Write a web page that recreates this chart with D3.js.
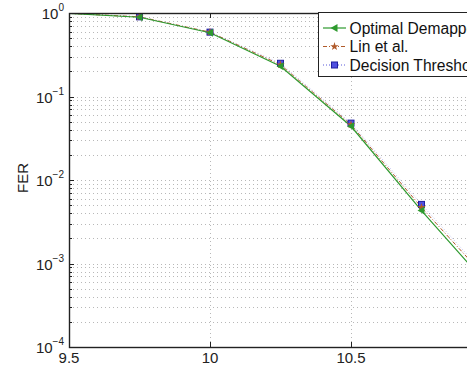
<!DOCTYPE html>
<html>
<head>
<meta charset="utf-8">
<script src="https://cdn.jsdelivr.net/npm/d3@7"></script>
<style>
  body { margin: 0; background: #fff; }
  text { font-family: "Liberation Sans", Arial, sans-serif; }
</style>
</head>
<body>
<script>
// chart data
const snr = [9.5, 9.75, 10, 10.25, 10.5, 10.75, 11];
const optimalFer = [0.99, 0.89, 0.58, 0.23, 0.044, 0.0043, 0.00048];
const linFer = [0.99, 0.9, 0.59, 0.24, 0.046, 0.0047, 0.00056];
const thresholdFer = [0.99, 0.9, 0.59, 0.25, 0.048, 0.0051, 0.0006];
const xTicks = [9.5, 10, 10.5, 11];
const yExponents = [0, -1, -2, -3, -4];
const legendNames = ["Optimal Demapper", "Lin et al.", "Decision Threshold"];

const width = 467, height = 368;
const plotLeft = 69, plotTop = 13, plotBottom = 347, plotRight = 492;

const svg = d3.select("body").append("svg")
    .attr("width", width)
    .attr("height", height);

const x = d3.scaleLinear().domain([9.5, 11]).range([plotLeft, plotRight]);
const y = d3.scaleLog().domain([1e-4, 1]).range([plotBottom, plotTop]);

// grid: minor + major on log axis, major on x
const grid = svg.append("g").attr("stroke", "#b8b8b8").attr("stroke-width", 1)
    .attr("stroke-dasharray", "1,3");
const yGrid = [];
for (let e = -4; e < 0; e++) {
    for (let m = 1; m < 10; m++) yGrid.push(m * Math.pow(10, e));
}
grid.selectAll("line.h").data(yGrid).join("line")
    .attr("x1", plotLeft).attr("x2", plotRight)
    .attr("y1", d => Math.round(y(d)) + 0.5).attr("y2", d => Math.round(y(d)) + 0.5);
grid.selectAll("line.v").data(xTicks.slice(1)).join("line")
    .attr("y1", plotTop).attr("y2", plotBottom)
    .attr("x1", d => Math.round(x(d)) + 0.5).attr("x2", d => Math.round(x(d)) + 0.5);

// curves
const line = d3.line().x((d, i) => x(snr[i])).y(d => y(d));
svg.append("clipPath").attr("id", "clip").append("rect")
    .attr("x", plotLeft).attr("y", plotTop)
    .attr("width", plotRight - plotLeft).attr("height", plotBottom - plotTop);
const plot = svg.append("g").attr("clip-path", "url(#clip)");

const series = [
    { values: thresholdFer, color: "#3030d0", dash: "1,2", width: 0.8, marker: "square" },
    { values: linFer, color: "#b05a2a", dash: "4,2,1,2", width: 1, marker: "star" },
    { values: optimalFer, color: "#2e9a2e", dash: null, width: 1.2, marker: "triangle" }
];

function drawMarker(g, type, color, cx, cy) {
    if (type === "square") {
        g.append("rect").attr("x", cx - 3).attr("y", cy - 3).attr("width", 6).attr("height", 6)
            .attr("fill", "#5050e0").attr("stroke", "#2020a0").attr("stroke-width", 1);
    } else if (type === "star") {
        g.append("path").attr("d", d3.symbol(d3.symbolStar, 22)())
            .attr("transform", `translate(${cx},${cy})`)
            .attr("fill", color);
    } else {
        g.append("path").attr("d", `M${cx - 4},${cy} L${cx + 3},${cy - 4} L${cx + 3},${cy + 4} Z`)
            .attr("fill", color);
    }
}

series.forEach(s => {
    plot.append("path").datum(s.values)
        .attr("d", line)
        .attr("fill", "none")
        .attr("stroke", s.color)
        .attr("stroke-width", s.width)
        .attr("stroke-dasharray", s.dash)
        .attr("opacity", s.marker === "square" ? 0.4 : 1);
});
series.forEach(s => {
    s.values.forEach((v, i) => {
        if (i === 0) return;
        drawMarker(plot, s.marker, s.color, x(snr[i]), y(v));
    });
});

// axes box
svg.append("rect").attr("x", plotLeft + 0.5).attr("y", plotTop + 0.5)
    .attr("width", plotRight - plotLeft).attr("height", plotBottom - plotTop)
    .attr("fill", "none").attr("stroke", "#222").attr("stroke-width", 1.4);

// ticks inward
const ticks = svg.append("g").attr("stroke", "#222").attr("stroke-width", 1);
xTicks.forEach(t => {
    const px = Math.round(x(t)) + 0.5;
    ticks.append("line").attr("x1", px).attr("x2", px).attr("y1", plotBottom).attr("y2", plotBottom - 5);
    ticks.append("line").attr("x1", px).attr("x2", px).attr("y1", plotTop).attr("y2", plotTop + 5);
});
yGrid.forEach(v => {
    const py = Math.round(y(v)) + 0.5;
    const major = Math.abs(Math.log10(v) - Math.round(Math.log10(v))) < 1e-9;
    ticks.append("line").attr("x1", plotLeft).attr("x2", plotLeft + (major ? 5 : 3)).attr("y1", py).attr("y2", py);
});

// x tick labels (the one at 11 falls outside the window)
svg.append("g").selectAll("text").data(xTicks.filter(t => x(t) < width - 10)).join("text")
    .attr("x", d => x(d)).attr("y", 363)
    .attr("text-anchor", "middle")
    .attr("font-size", 15)
    .attr("fill", "#222")
    .text(d => d);

// y tick labels 10^e
yExponents.forEach(e => {
    const t = svg.append("text")
        .attr("x", 64).attr("y", y(Math.pow(10, e)) + 6)
        .attr("text-anchor", "end")
        .attr("font-size", 15)
        .attr("fill", "#222");
    t.append("tspan").text("10");
    t.append("tspan").attr("dy", -8).attr("font-size", 10).text(e === 0 ? "0" : "\u2212" + (-e));
});

// axis title
svg.append("text")
    .attr("transform", "translate(28,178) rotate(-90)")
    .attr("text-anchor", "middle")
    .attr("font-size", 15)
    .attr("fill", "#222")
    .text("FER");

// legend (clipped by the window edge, as in the source figure)
const lg = svg.append("g");
lg.append("rect").attr("x", 318.5).attr("y", 12.5).attr("width", 200).attr("height", 64)
    .attr("fill", "#fff").attr("stroke", "#222").attr("stroke-width", 1);
const legendSeries = [series[2], series[1], series[0]];
legendNames.forEach((name, i) => {
    const ly = 28 + i * 18.5;
    const s = legendSeries[i];
    lg.append("line").attr("x1", 323).attr("x2", 346).attr("y1", ly).attr("y2", ly)
        .attr("stroke", s.color).attr("stroke-width", s.width)
        .attr("stroke-dasharray", s.dash);
    drawMarker(lg, s.marker, s.color, 334.5, ly);
    lg.append("text").attr("x", 349.5).attr("y", ly + 5.5)
        .attr("font-size", 15.6).attr("fill", "#111").text(name);
});
</script>
</body>
</html>
